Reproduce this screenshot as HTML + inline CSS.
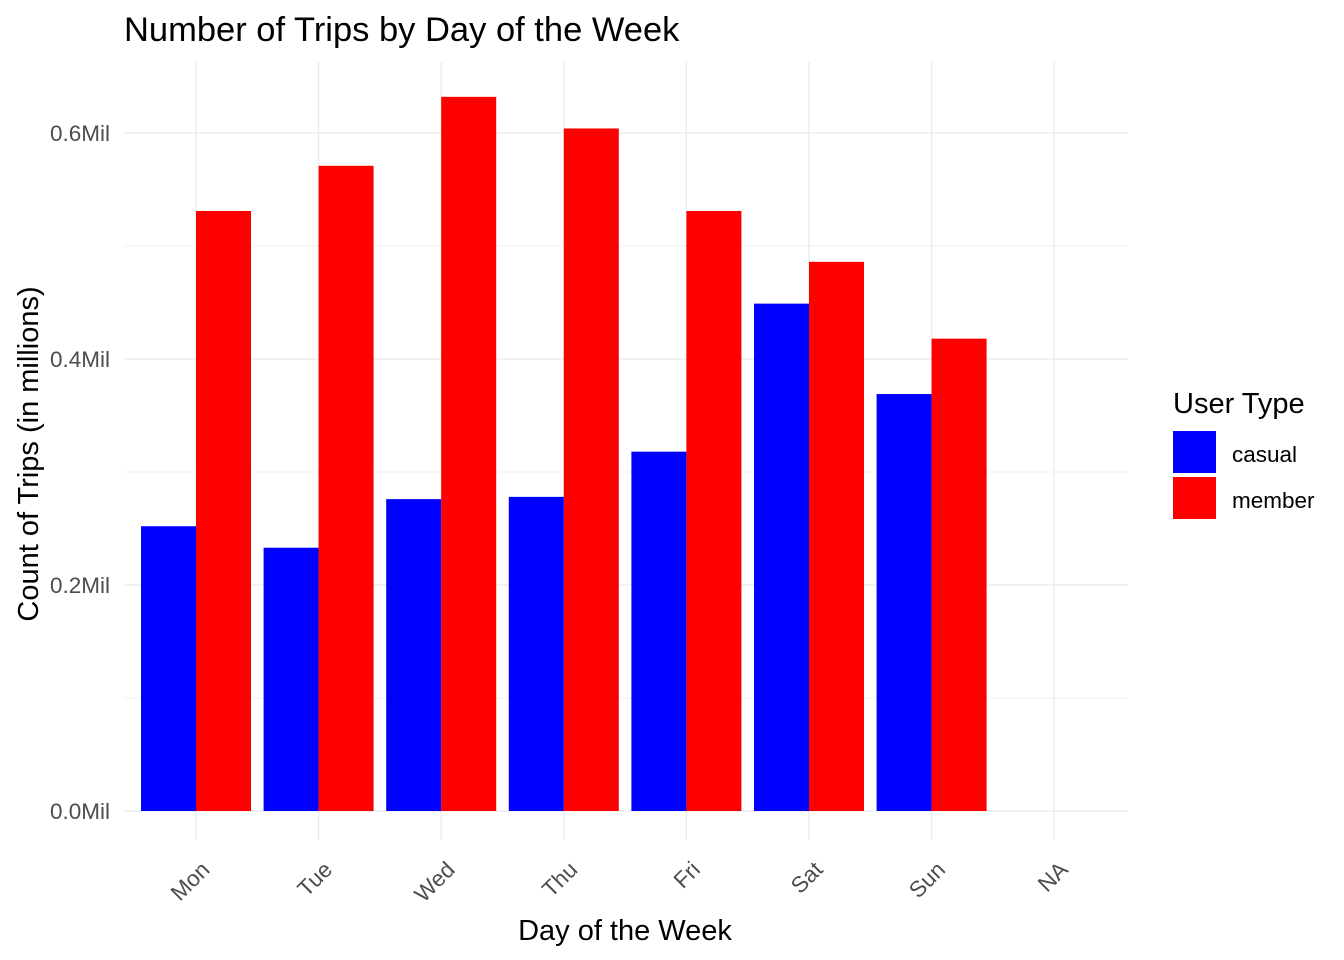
<!DOCTYPE html>
<html><head><meta charset="utf-8"><style>
html,body{margin:0;padding:0;background:#fff;}
svg{display:block;font-family:"Liberation Sans",Arial,sans-serif;}
</style></head><body>
<svg id="chart" width="1344" height="960">
<text x="124" y="41" font-size="34.5" fill="#000">Number of Trips by Day of the Week</text>
<g id="grid"></g>
<g id="bars"></g>
<g id="axes"></g>
<text x="625" y="940" font-size="29" text-anchor="middle" fill="#000">Day of the Week</text>
<text transform="translate(38,454) rotate(-90)" font-size="29" text-anchor="middle" fill="#000">Count of Trips (in millions)</text>
<g>
<text x="1173" y="413" font-size="29" fill="#000">User Type</text>
<rect x="1173" y="431" width="43" height="42" fill="#0000ff"/>
<text x="1232" y="462" font-size="22.5" fill="#000">casual</text>
<rect x="1173" y="477" width="43" height="42" fill="#ff0000"/>
<text x="1232" y="508" font-size="22.5" fill="#000">member</text>
</g>
</svg>
<script>
const categories = ["Mon","Tue","Wed","Thu","Fri","Sat","Sun","NA"];
const casual = [0.252,0.233,0.276,0.278,0.318,0.449,0.369,null];
const member = [0.531,0.571,0.632,0.604,0.531,0.486,0.418,null];
const yTicks = [0,0.2,0.4,0.6];
const yTickLabels = ["0.0Mil","0.2Mil","0.4Mil","0.6Mil"];
const yMinor = [0.1,0.3,0.5];

const NS="http://www.w3.org/2000/svg";
const y0=811, pxPer=1130;
const yS=v=>y0-v*pxPer;
const x0=196, step=122.6;
const xS=i=>x0+i*step;
const bw=55;
const panelL=124, panelR=1128, panelT=62, panelB=840;
function mk(tag,attrs,parent){const e=document.createElementNS(NS,tag);for(const k in attrs)e.setAttribute(k,attrs[k]);parent.appendChild(e);return e;}
const grid=document.getElementById('grid'), bars=document.getElementById('bars'), axes=document.getElementById('axes');
yMinor.forEach(v=>{const l=mk('line',{x1:panelL,x2:panelR,y1:yS(v),y2:yS(v),stroke:'#f2f2f2','stroke-width':1},grid);

});
yTicks.forEach((v,i)=>{const l=mk('line',{x1:panelL,x2:panelR,y1:yS(v),y2:yS(v),stroke:'#ebebeb','stroke-width':1.3},grid);


const t=mk('text',{x:110,y:yS(v)+8,'text-anchor':'end','font-size':22.5,fill:'#4d4d4d'},axes);t.textContent=yTickLabels[i];

});
categories.forEach((c,i)=>{const x=xS(i);
const l=mk('line',{x1:x,x2:x,y1:panelT,y2:panelB,stroke:'#ebebeb','stroke-width':1.3},grid);


const t=mk('text',{transform:`translate(${x+15},${871}) rotate(-45)`,'text-anchor':'end','font-size':22.5,fill:'#4d4d4d'},axes);t.textContent=c;


if(casual[i]!=null){const r=mk('rect',{x:x-bw,y:yS(casual[i]),width:bw,height:y0-yS(casual[i]),fill:'#0000ff'},bars);

}
if(member[i]!=null){const r=mk('rect',{x:x,y:yS(member[i]),width:bw,height:y0-yS(member[i]),fill:'#ff0000'},bars);

}
});
</script>
</body></html>
